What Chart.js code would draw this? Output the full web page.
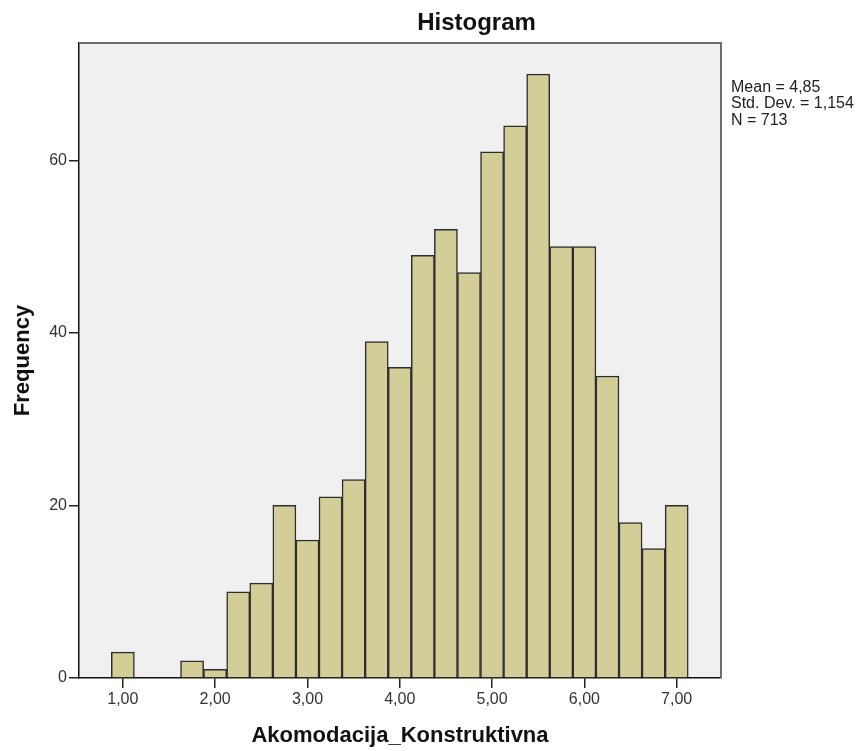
<!DOCTYPE html>
<html>
<head>
<meta charset="utf-8">
<script src="https://cdn.jsdelivr.net/npm/chart.js@4.4.1/dist/chart.umd.min.js"></script>
<style>
  body { margin: 0; background: #fff; }
  #wrap { width: 866px; height: 751px; position: relative; }
</style>
</head>
<body>
<div id="wrap"><canvas id="myChart"></canvas></div>
<script>
// histogram bins (bin centre) and counts
const binCenters = [1.00, 1.25, 1.50, 1.75, 2.00, 2.25, 2.50, 2.75, 3.00, 3.25, 3.50, 3.75,
    4.00, 4.25, 4.50, 4.75, 5.00, 5.25, 5.50, 5.75, 6.00, 6.25, 6.50, 6.75, 7.00];
const frequencies = [3, 0, 0, 2, 1, 10, 11, 20, 16, 21, 23, 39,
    36, 49, 52, 47, 61, 64, 70, 50, 50, 35, 18, 15, 20];
const xTickValues = [1, 2, 3, 4, 5, 6, 7];
const yTickValues = [0, 20, 40, 60];
const statsLines = ['Mean = 4,85', 'Std. Dev. = 1,154', 'N = 713'];

const FONT = '"Liberation Sans", Arial, sans-serif';

const frame = {
    id: 'frame',
    beforeDraw(chart) {
        const { ctx, chartArea: a } = chart;
        ctx.save();
        ctx.fillStyle = '#f0f0f0';
        ctx.fillRect(a.left, a.top, a.right - a.left, a.bottom - a.top);
        ctx.restore();
    },
    afterDraw(chart) {
        const { ctx, chartArea: a } = chart;
        ctx.save();
        ctx.strokeStyle = '#6e6e6e';
        ctx.lineWidth = 2;
        ctx.beginPath();
        ctx.moveTo(a.left, a.top);
        ctx.lineTo(a.right, a.top);
        ctx.lineTo(a.right, a.bottom);
        ctx.stroke();

        // title
        ctx.fillStyle = '#111';
        ctx.font = 'bold 24px ' + FONT;
        ctx.textAlign = 'center';
        ctx.textBaseline = 'alphabetic';
        ctx.fillText('Histogram', 476.5, 29.5);

        // stats box
        ctx.font = '16px ' + FONT;
        ctx.textAlign = 'left';
        ctx.fillStyle = '#222';
        statsLines.forEach((t, i) => ctx.fillText(t, 731, 91.5 + i * 16.6));
        ctx.restore();
    }
};

const ctx = document.getElementById('myChart').getContext('2d');
new Chart(ctx, {
    type: 'bar',
    data: {
        datasets: [{
            data: frequencies.map((f, i) => ({ x: binCenters[i], y: f })),
            backgroundColor: '#d3ce98',
            borderColor: '#2e2e2e',
            borderWidth: 1.5,
            barPercentage: 1,
            categoryPercentage: 1
        }]
    },
    options: {
        responsive: true,
        maintainAspectRatio: false,
        animation: false,
        layout: { padding: { top: 43, right: 145, left: 0, bottom: 0 } },
        plugins: {
            legend: { display: false },
            tooltip: { enabled: false }
        },
        scales: {
            x: {
                type: 'linear',
                min: 0.525,
                max: 7.48,
                offset: false,
                grid: { offset: false, drawOnChartArea: false, drawTicks: true, tickLength: 10, color: '#222', lineWidth: 1.5 },
                border: { color: '#111', width: 1.5 },
                afterBuildTicks: s => { s.ticks = xTickValues.map(v => ({ value: v })); },
                afterFit: s => { s.height = 73; },
                ticks: {
                    color: '#333',
                    padding: 2,
                    maxRotation: 0,
                    font: { family: FONT, size: 16 },
                    callback: v => v.toFixed(2).replace('.', ',')
                },
                title: {
                    display: true,
                    text: 'Akomodacija_Konstruktivna',
                    color: '#111',
                    font: { family: FONT, size: 22, weight: 'bold' },
                    padding: { top: 0, bottom: 2 }
                }
            },
            y: {
                min: 0,
                max: 73.6,
                grid: { drawOnChartArea: false, drawTicks: true, tickLength: 10, color: '#222', lineWidth: 1.5 },
                border: { color: '#111', width: 1.5 },
                afterBuildTicks: s => { s.ticks = yTickValues.map(v => ({ value: v })); },
                afterFit: s => { s.width = 79; },
                ticks: {
                    color: '#333',
                    padding: 2,
                    font: { family: FONT, size: 16 },
                    callback: v => String(v)
                },
                title: {
                    display: true,
                    text: 'Frequency',
                    color: '#111',
                    font: { family: FONT, size: 22, weight: 'bold' },
                    padding: { top: 10, bottom: 0 }
                }
            }
        }
    },
    plugins: [frame]
});
</script>
</body>
</html>
